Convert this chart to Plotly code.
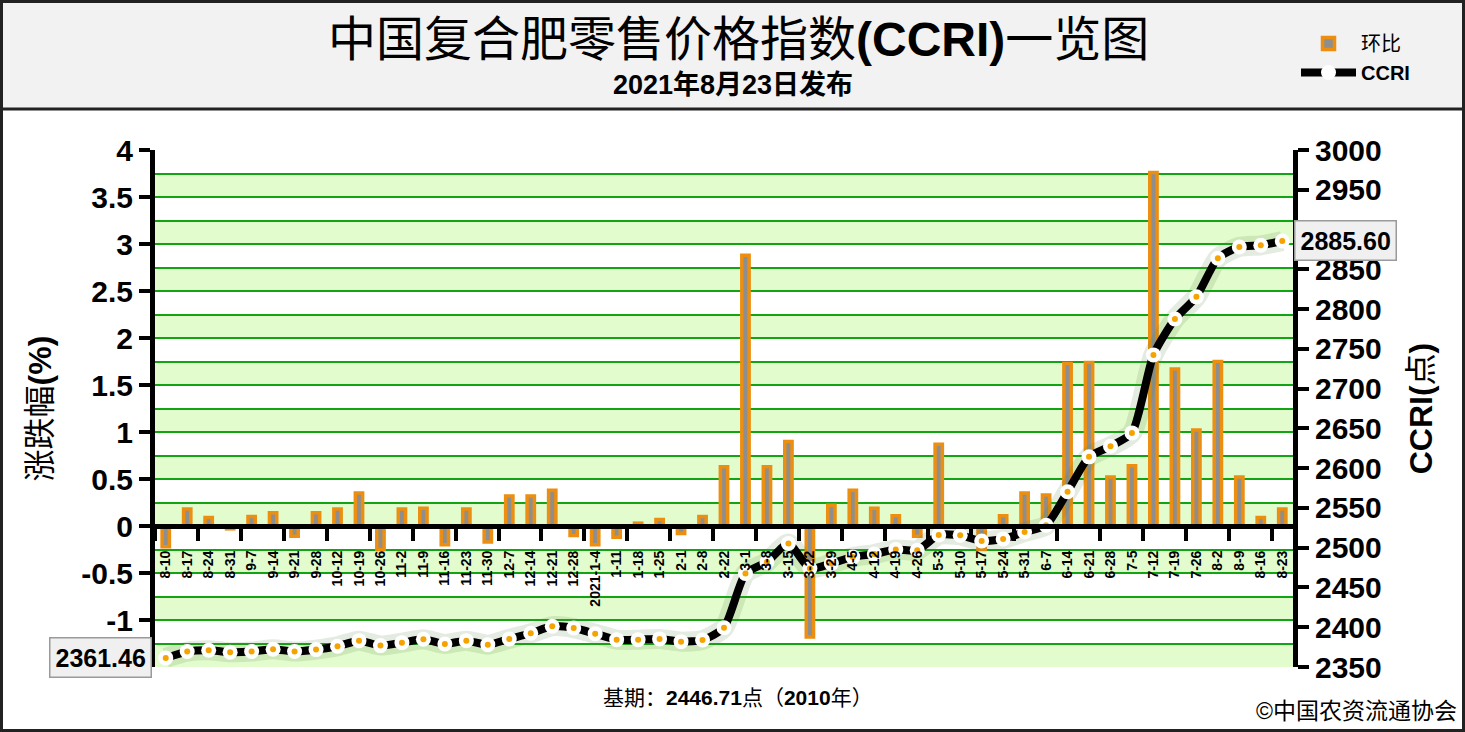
import numpy as np
import plotly.graph_objects as go

# ---------------- data ----------------
dates = ["8-10", "8-17", "8-24", "8-31", "9-7", "9-14", "9-21", "9-28", "10-12", "10-19",
         "10-26", "11-2", "11-9", "11-16", "11-23", "11-30", "12-7", "12-14", "12-21", "12-28",
         "2021-1-4", "1-11", "1-18", "1-25", "2-1", "2-8", "2-22", "3-1", "3-8", "3-15",
         "3-22", "3-29", "4-5", "4-12", "4-19", "4-26", "5-3", "5-10", "5-17", "5-24",
         "5-31", "6-7", "6-14", "6-21", "6-28", "7-5", "7-12", "7-19", "7-26", "8-2",
         "8-9", "8-16", "8-23"]

change_pct = [-0.22, 0.18, 0.09, -0.03, 0.10, 0.14, -0.11, 0.14, 0.18, 0.35,
              -0.25, 0.18, 0.19, -0.20, 0.18, -0.17, 0.32, 0.32, 0.38, -0.10,
              -0.20, -0.12, 0.03, 0.07, -0.08, 0.10, 0.63, 2.88, 0.63, 0.90,
              -1.18, 0.22, 0.38, 0.19, 0.11, -0.11, 0.87, -0.02, -0.25, 0.11,
              0.35, 0.33, 1.73, 1.74, 0.52, 0.64, 3.76, 1.67, 1.02, 1.75,
              0.52, 0.09, 0.18]

ccri = [2361.46, 2369.4, 2371.1, 2368.6, 2369.4, 2372.4, 2369.4, 2371.9, 2376.1, 2383.1,
        2376.9, 2380.6, 2384.9, 2379.0, 2383.1, 2378.1, 2385.3, 2392.4, 2401.2, 2399.0,
        2391.9, 2384.4, 2384.4, 2385.3, 2381.9, 2384.0, 2399.4, 2467.6, 2482.1, 2505.2,
        2473.9, 2480.1, 2488.4, 2492.1, 2497.7, 2496.8, 2516.0, 2515.6, 2508.4, 2510.9,
        2519.7, 2528.1, 2570.3, 2614.2, 2627.5, 2644.3, 2742.4, 2787.5, 2815.4, 2863.9,
        2878.1, 2880.2, 2885.60]

left_range = [-1.5, 4.0]
right_range = [2350, 3000]

# ---------------- layout constants ----------------
W, H = 1465, 732
ML, MR, MT, MB = 155, 172, 150, 65
PW, PH = W - ML - MR, H - MT - MB

FONT = "Liberation Sans, Arial, Noto Sans CJK SC, sans-serif"


def px_x(p):
    return (p - ML) / PW


def px_y(p):
    return (H - MB - p) / PH


n = len(dates)
xi = list(range(n))

fig = go.Figure()

fig.add_trace(go.Bar(
    x=xi, y=change_pct, name="环比", width=0.34,
    marker=dict(color="#8E8E8E", line=dict(color="#EC8E10", width=3.5)),
    hoverinfo="skip",
))

# soft shadow under the CCRI line
fig.add_trace(go.Scatter(
    x=xi, y=ccri, yaxis="y2", mode="lines", showlegend=False,
    line=dict(color="rgba(90,130,60,0.16)", width=20, shape="spline", smoothing=0.6),
    hoverinfo="skip",
))
fig.add_trace(go.Scatter(
    x=xi, y=ccri, name="<b>CCRI</b>", yaxis="y2", mode="lines+markers",
    line=dict(color="black", width=8, shape="spline", smoothing=0.6),
    marker=dict(color="white", size=15, line=dict(width=0)),
    hoverinfo="skip",
))
fig.add_trace(go.Scatter(
    x=xi, y=ccri, yaxis="y2", mode="markers", showlegend=False,
    marker=dict(color="#F5A300", size=6),
    hoverinfo="skip",
))

# alternating background bands between gridlines
shapes = []
for k in np.arange(left_range[0], left_range[1], 0.5):
    shapes.append(dict(type="rect", xref="paper", yref="y", x0=0, x1=1,
                       y0=k, y1=k + 0.25, fillcolor="#E3FCCE", line=dict(width=0),
                       layer="below"))
# header background + frame
shapes.append(dict(type="rect", xref="paper", yref="paper",
                   x0=px_x(0), x1=px_x(W), y0=px_y(109), y1=px_y(0),
                   fillcolor="#F2F2F2", line=dict(width=0), layer="below"))
shapes.append(dict(type="line", xref="paper", yref="paper",
                   x0=px_x(0), x1=px_x(W), y0=px_y(109), y1=px_y(109),
                   line=dict(color="#222", width=3)))
shapes.append(dict(type="rect", xref="paper", yref="paper",
                   x0=px_x(1.5), x1=px_x(W - 1.5), y0=px_y(H - 1.5), y1=px_y(1.5),
                   line=dict(color="#222", width=3)))

yticks = np.arange(left_range[0] + 0.5, left_range[1] + 0.001, 0.5)
yticktext = [("%g" % v) for v in yticks]


def label(text, x, y, size, xanchor="center", **kw):
    return dict(text=text, xref="paper", yref="paper", x=px_x(x), y=px_y(y),
                xanchor=xanchor, yanchor="middle", showarrow=False,
                font=dict(size=size, color="black", family=FONT), **kw)


annotations = [
    label("中国复合肥零售价格指数<b>(CCRI)</b>一览图", 738, 40, 48),
    label("<b>2021年8月23日发布</b>", 733, 85, 27),
    label("基期：<b>2446.71</b>点（<b>2010</b>年）", 738, 697, 21),
    label("©中国农资流通协会", 1459, 711, 23, xanchor="right"),
    dict(text="<b>%.2f</b>" % ccri[0], xref="x", yref="y2", x=xi[0], y=ccri[0],
         xanchor="right", yanchor="middle", xshift=-14, showarrow=False,
         font=dict(size=25, color="black", family=FONT),
         bgcolor="#F0F0F0", bordercolor="#9A9A9A", borderwidth=1.5, borderpad=5),
    dict(text="<b>%.2f</b>" % ccri[-1], xref="x", yref="y2", x=xi[-1], y=ccri[-1],
         xanchor="left", yanchor="middle", xshift=12, showarrow=False,
         font=dict(size=25, color="black", family=FONT),
         bgcolor="#F0F0F0", bordercolor="#9A9A9A", borderwidth=1.5, borderpad=5),
]

fig.update_layout(
    width=W, height=H,
    margin=dict(l=ML, r=MR, t=MT, b=MB),
    paper_bgcolor="white", plot_bgcolor="white",
    font=dict(family=FONT, color="black"),
    showlegend=True,
    legend=dict(x=px_x(1296), y=px_y(24), xanchor="left", yanchor="top",
                bgcolor="rgba(0,0,0,0)", font=dict(size=20, family=FONT),
                itemwidth=55, traceorder="normal"),
    bargap=0.5,
    xaxis=dict(type="linear", range=[-0.5, n - 0.5], anchor="free",
               position=(0 - left_range[0]) / (left_range[1] - left_range[0]),
               tickvals=xi, ticktext=dates, tickangle=-90, ticks="",
               ticklabelstandoff=16,
               tickfont=dict(size=14, weight="bold", family=FONT),
               showgrid=False, zeroline=False,
               showline=True, linecolor="black", linewidth=5,
               minor=dict(tick0=-0.5, dtick=2, ticks="outside", ticklen=12,
                          tickwidth=4, tickcolor="black", showgrid=False)),
    yaxis=dict(range=left_range, tickvals=yticks, ticktext=yticktext,
               showgrid=True, gridcolor="#12A412", gridwidth=2,
               minor=dict(dtick=0.25, tick0=0, showgrid=True, gridcolor="#12A412", gridwidth=2),
               zeroline=False,
               showline=True, linecolor="black", linewidth=5,
               ticks="outside", ticklen=11, tickwidth=4, tickcolor="black",
               tickfont=dict(size=30, weight="bold", family=FONT),
               title=dict(text="涨跌幅<b>(%)</b>", font=dict(size=32, family=FONT), standoff=22)),
    yaxis2=dict(range=right_range, dtick=50, overlaying="y", side="right",
                showgrid=False, zeroline=False,
                showline=True, linecolor="black", linewidth=5,
                ticks="outside", ticklen=11, tickwidth=4, tickcolor="black",
                tickfont=dict(size=30, weight="bold", family=FONT),
                title=dict(text="<b>CCRI(</b>点<b>)</b>", font=dict(size=32, family=FONT), standoff=30)),
    shapes=shapes,
    annotations=annotations,
)

fig.write_html("out.html", config={"displayModeBar": False},
               post_script="document.body.style.margin='0px';document.body.style.overflow='hidden';")
